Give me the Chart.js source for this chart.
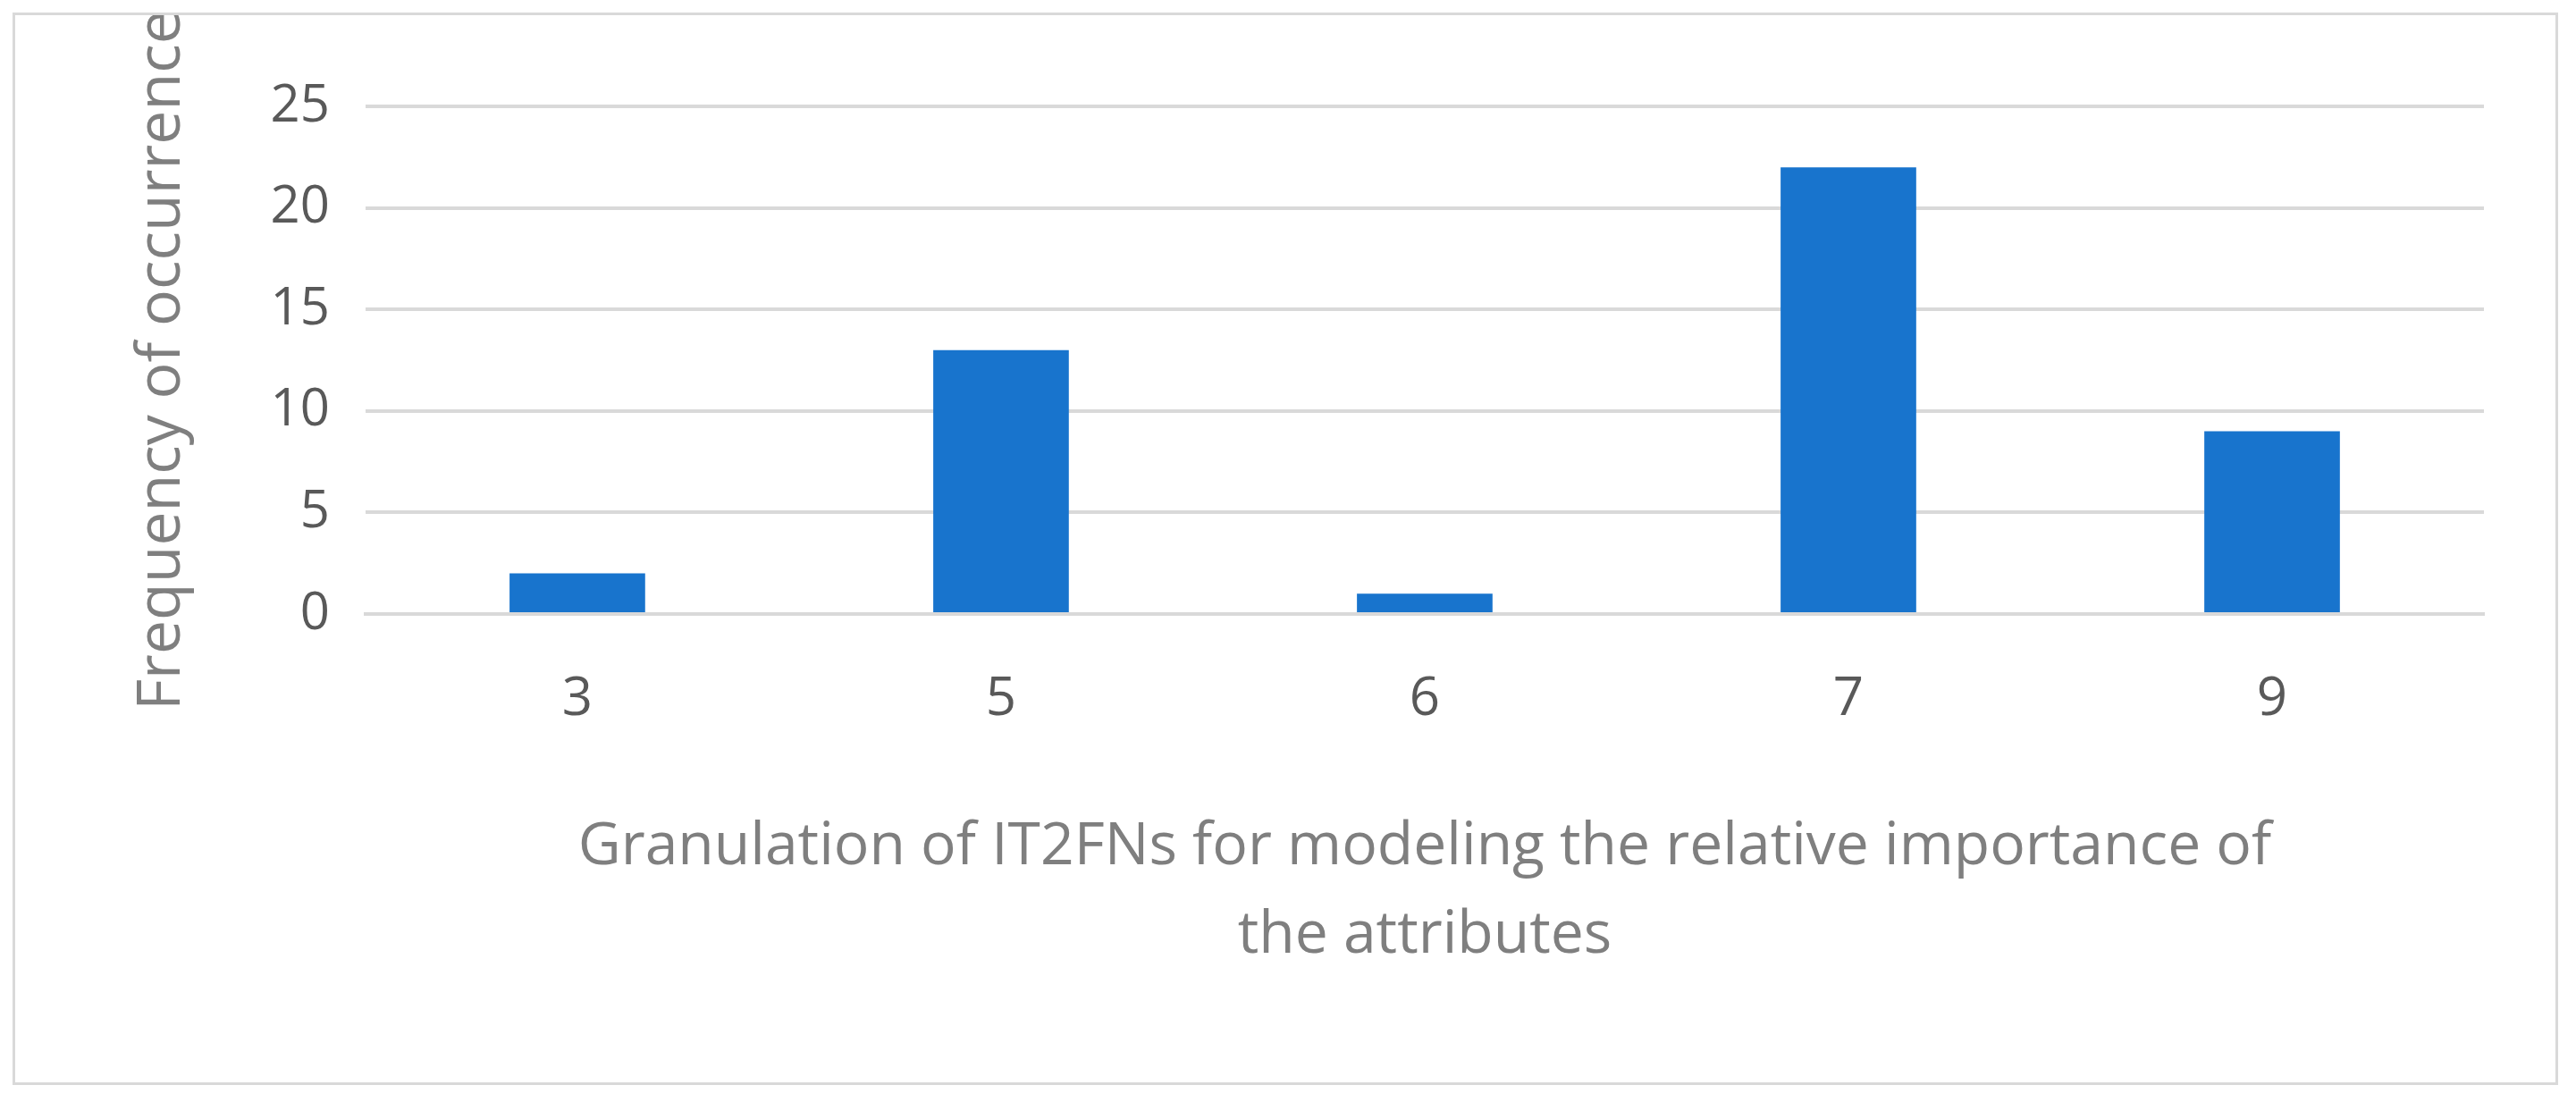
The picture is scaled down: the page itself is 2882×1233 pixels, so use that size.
<!DOCTYPE html>
<html><head><meta charset="utf-8">
<script src="https://cdn.jsdelivr.net/npm/chart.js@4/dist/chart.umd.min.js"></script>
<style>
html,body{margin:0;padding:0;background:#fff;}
#wrap{position:absolute;left:14px;top:14px;width:2848px;height:1200px;border:3px solid #d9d9d9;box-sizing:border-box;}
canvas{display:block;}
</style></head><body>
<div id="wrap"><canvas id="c"></canvas></div>
<script>
const categories = ["3","5","6","7","9"];
const frequency = [2,13,1,22,9];
const yTicks = [0,5,10,15,20,25];
const xTitle = ["Granulation of IT2FNs for modeling the relative importance of","the attributes"];
const yTitle = "Frequency of occurrence";

new Chart(document.getElementById('c'), {
  type: 'bar',
  data: { labels: categories, datasets: [{ data: frequency, backgroundColor: '#1874CD', categoryPercentage: 0.64, barPercentage: 0.5 }] },
  options: {
    responsive: true, maintainAspectRatio: false, animation: false,
    layout: { padding: { left: 120, right: 80, top: 102, bottom: 110 } },
    plugins: { legend: { display: false }, tooltip: { enabled: false } },
    scales: {
      x: {
        grid: { display: false, drawTicks: false },
        border: { color: '#d9d9d9', width: 4 },
        ticks: { color: '#595959', font: { family: '"Open Sans", sans-serif', size: 60 }, padding: 60 },
        title: { display: true, text: xTitle, color: '#7f7f7f', font: { family: '"Open Sans", sans-serif', size: 66, lineHeight: 1.5 }, padding: { top: 20 } }
      },
      y: {
        min: 0, max: 25,
        afterBuildTicks: s => { s.ticks = yTicks.map(v => ({ value: v })); },
        grid: { color: '#d9d9d9', lineWidth: 4, drawTicks: false },
        border: { display: false },
        ticks: { color: '#595959', font: { family: '"Open Sans", sans-serif', size: 58 }, padding: 40 },
        title: { display: true, text: yTitle, color: '#7f7f7f', font: { family: '"Open Sans", sans-serif', size: 68 }, padding: { bottom: 40 } }
      }
    }
  }
});
</script>
</body></html>
